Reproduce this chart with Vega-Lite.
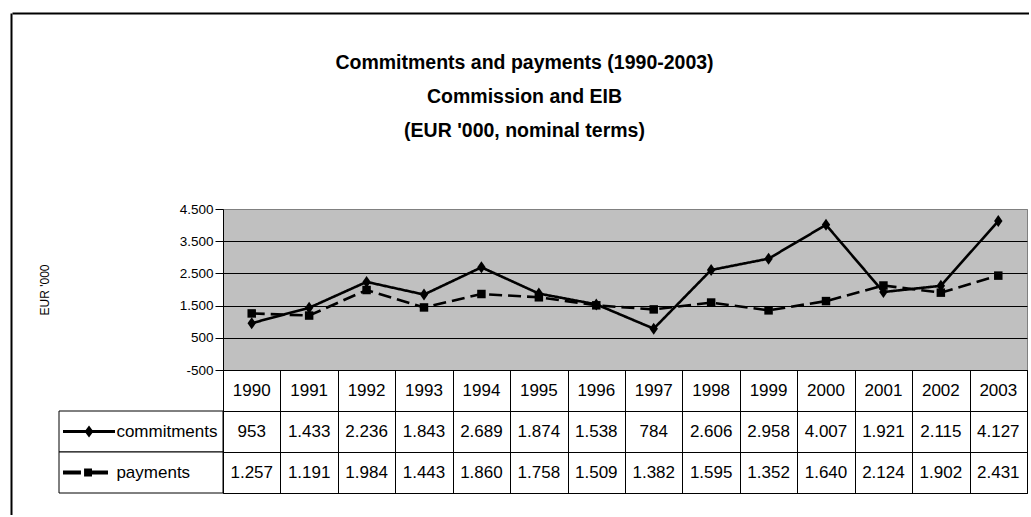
{
  "$schema": "https://vega.github.io/schema/vega-lite/v6.json",
  "background": "white",
  "padding": {"left": 11, "top": 13, "right": 0, "bottom": 0},
  "data": {"values": [
    {"year": 1990, "series": "commitments", "value": 953},
    {"year": 1991, "series": "commitments", "value": 1433},
    {"year": 1992, "series": "commitments", "value": 2236},
    {"year": 1993, "series": "commitments", "value": 1843},
    {"year": 1994, "series": "commitments", "value": 2689},
    {"year": 1995, "series": "commitments", "value": 1874},
    {"year": 1996, "series": "commitments", "value": 1538},
    {"year": 1997, "series": "commitments", "value": 784},
    {"year": 1998, "series": "commitments", "value": 2606},
    {"year": 1999, "series": "commitments", "value": 2958},
    {"year": 2000, "series": "commitments", "value": 4007},
    {"year": 2001, "series": "commitments", "value": 1921},
    {"year": 2002, "series": "commitments", "value": 2115},
    {"year": 2003, "series": "commitments", "value": 4127},
    {"year": 1990, "series": "payments", "value": 1257},
    {"year": 1991, "series": "payments", "value": 1191},
    {"year": 1992, "series": "payments", "value": 1984},
    {"year": 1993, "series": "payments", "value": 1443},
    {"year": 1994, "series": "payments", "value": 1860},
    {"year": 1995, "series": "payments", "value": 1758},
    {"year": 1996, "series": "payments", "value": 1509},
    {"year": 1997, "series": "payments", "value": 1382},
    {"year": 1998, "series": "payments", "value": 1595},
    {"year": 1999, "series": "payments", "value": 1352},
    {"year": 2000, "series": "payments", "value": 1640},
    {"year": 2001, "series": "payments", "value": 2124},
    {"year": 2002, "series": "payments", "value": 1902},
    {"year": 2003, "series": "payments", "value": 2431}
  ]},
  "config": {
    "view": {"stroke": null},
    "font": "Liberation Sans, Arial, sans-serif",
    "axis": {"labelFont": "Liberation Sans, Arial, sans-serif", "titleFont": "Liberation Sans, Arial, sans-serif"}
  },
  "spacing": 0,
  "hconcat": [
    {
      "width": 0.01,
      "height": 502,
      "mark": {"type": "point", "opacity": 0, "size": 0},
      "encoding": {
        "y": {"datum": 0.5, "type": "quantitative", "scale": {"domain": [0, 1]},
              "axis": {"orient": "left", "labels": false, "ticks": false, "grid": false, "title": null, "domainColor": "black", "domainWidth": 2}}
      }
    },
    {
      "spacing": 0,
      "vconcat": [
        {
          "width": 1017,
          "height": 188,
          "title": {
            "text": ["Commitments and payments (1990-2003)", "Commission and EIB", "(EUR '000, nominal terms)"],
            "anchor": "middle", "frame": "group", "fontSize": 19.5, "fontWeight": "bold",
            "font": "Liberation Sans, Arial, sans-serif",
            "lineHeight": 34, "offset": -128, "dx": 4, "color": "black"
          },
          "mark": {"type": "point", "opacity": 0, "size": 0},
          "encoding": {
            "x": {"datum": 0.5, "type": "quantitative", "scale": {"domain": [0, 1]},
                  "axis": {"orient": "top", "labels": false, "ticks": false, "grid": false, "title": null, "domainColor": "black", "domainWidth": 2}}
          }
        },
        {
          "bounds": "flush",
          "spacing": 0,
          "columns": 3,
          "resolve": {"scale": {"shape": "independent", "size": "independent", "strokeDash": "independent"}},
          "concat": [
            {"width": 47, "height": 161, "mark": {"type": "point", "opacity": 0, "size": 0}},
            {"width": 164, "height": 161, "mark": {"type": "point", "opacity": 0, "size": 0}},
            {
              "width": 804,
              "height": 161,
              "view": {"fill": "#c0c0c0", "stroke": "#808080", "strokeWidth": 1},
              "encoding": {
                "x": {"field": "year", "type": "ordinal", "scale": {"type": "point", "padding": 0.5}, "axis": null},
                "y": {"field": "value", "type": "quantitative",
                      "scale": {"domain": [-500, 4500], "nice": false, "zero": false},
                      "axis": {
                        "values": [-500, 500, 1500, 2500, 3500, 4500],
                        "labelExpr": "(datum.value < 0 ? '-' : '') + replace(format(abs(datum.value), ','), ',', '.')",
                        "grid": true,
                        "gridColor": {"condition": {"test": "datum.value == 4500", "value": "#808080"}, "value": "black"},
                        "gridWidth": 1, "gridOpacity": 1,
                        "domainColor": "black", "domainWidth": 1,
                        "tickColor": "black", "tickSize": 8, "tickWidth": 1,
                        "labelFontSize": 13.5, "labelColor": "black", "labelPadding": 2,
                        "title": "EUR '000", "titleFontWeight": "normal", "titleFontSize": 12,
                        "titleColor": "black", "titlePadding": 128
                      }}
              },
              "layer": [
                {
                  "mark": {"type": "line", "color": "black", "strokeWidth": 2.6},
                  "encoding": {
                    "strokeDash": {"field": "series", "type": "nominal",
                                   "scale": {"domain": ["commitments", "payments"], "range": [[1, 0], [13, 6]]},
                                   "legend": null}
                  }
                },
                {
                  "mark": {"type": "point", "filled": true, "color": "black", "opacity": 1},
                  "encoding": {
                    "shape": {"field": "series", "type": "nominal",
                              "scale": {"domain": ["commitments", "payments"], "range": ["M0,-1L0.7,0L0,1L-0.7,0Z", "square"]},
                              "legend": null},
                    "size": {"field": "series", "type": "nominal",
                             "scale": {"domain": ["commitments", "payments"], "range": [144, 72]},
                             "legend": null}
                  }
                }
              ]
            },
            {"width": 47, "height": 123, "mark": {"type": "point", "opacity": 0, "size": 0}},
            {
              "width": 164,
              "height": 123,
              "transform": [{"filter": "datum.year == 1990"}],
              "encoding": {
                "y": {"field": "series", "type": "nominal",
                      "scale": {"type": "band", "domain": ["year", "commitments", "payments"], "paddingInner": 0, "paddingOuter": 0},
                      "axis": null}
              },
              "layer": [
                {"mark": {"type": "rect", "fill": "white", "stroke": "black", "strokeWidth": 1}},
                {
                  "mark": {"type": "point", "filled": true, "color": "black", "opacity": 1, "size": 2704},
                  "encoding": {
                    "x": {"datum": 0.183, "type": "quantitative", "scale": {"domain": [0, 1]}, "axis": null},
                    "shape": {"field": "series", "type": "nominal",
                              "scale": {"domain": ["commitments", "payments"],
                                        "range": ["M-1,-0.058H1V0.058H-1Z M0,-0.23L0.17,0L0,0.23L-0.17,0Z",
                                                  "M-1,-0.077H-0.31V0.077H-1Z M-0.19,-0.154H0.115V0.154H-0.19Z M0.115,-0.077H0.73V0.077H0.115Z"]},
                              "legend": null}
                  }
                },
                {
                  "mark": {"type": "text", "align": "left", "baseline": "middle", "fontSize": 17, "color": "black"},
                  "encoding": {
                    "x": {"datum": 0.35, "type": "quantitative", "scale": {"domain": [0, 1]}, "axis": null},
                    "text": {"field": "series"}
                  }
                }
              ]
            },
            {
              "width": 804,
              "height": 123,
              "view": {"stroke": "black", "strokeWidth": 1},
              "transform": [{"calculate": "replace(format(datum.value, ','), ',', '.')", "as": "label"}],
              "encoding": {
                "x": {"field": "year", "type": "ordinal",
                      "scale": {"type": "band", "paddingInner": 0, "paddingOuter": 0},
                      "axis": {"labels": false, "ticks": false, "domain": false, "grid": true, "gridColor": "black", "gridOpacity": 1, "tickBand": "extent", "title": null}}
              },
              "layer": [
                {
                  "transform": [{"filter": "datum.series == 'commitments'"}],
                  "mark": {"type": "text", "fontSize": 17, "color": "black", "baseline": "middle"},
                  "encoding": {
                    "y": {"datum": "year", "type": "nominal",
                          "scale": {"type": "band", "domain": ["year", "commitments", "payments"], "paddingInner": 0, "paddingOuter": 0},
                          "axis": {"labels": false, "ticks": false, "domain": false, "grid": true, "gridColor": "black", "gridOpacity": 1, "tickBand": "extent", "title": null}},
                    "text": {"field": "year"}
                  }
                },
                {
                  "mark": {"type": "text", "fontSize": 17, "color": "black", "baseline": "middle"},
                  "encoding": {
                    "y": {"field": "series", "type": "nominal"},
                    "text": {"field": "label"}
                  }
                }
              ]
            }
          ]
        }
      ]
    }
  ]
}
